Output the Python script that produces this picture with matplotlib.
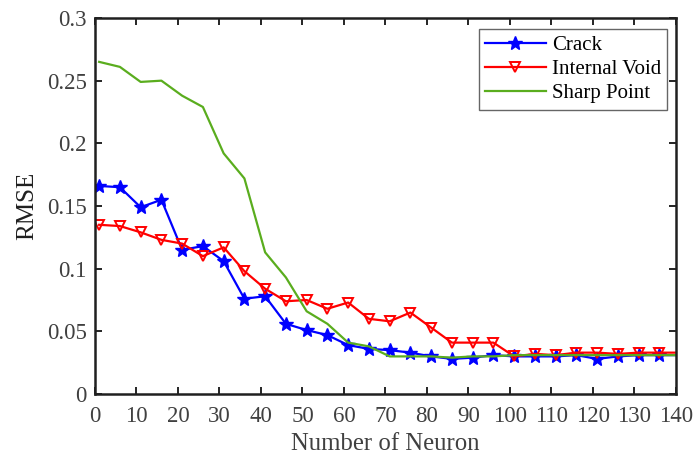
import matplotlib.pyplot as plt
import numpy as np

plt.rcParams['font.family'] = ['Liberation Serif', 'DejaVu Serif']

# neuron counts (1, 6, ..., 141)
neurons = list(range(1, 142, 5))

crack = [0.166, 0.165, 0.149, 0.155, 0.115, 0.118, 0.106, 0.076, 0.078, 0.056,
         0.051, 0.047, 0.039, 0.036, 0.035, 0.033, 0.030, 0.028, 0.029, 0.031,
         0.030, 0.030, 0.030, 0.031, 0.028, 0.030, 0.031, 0.031, 0.031]
void = [0.135, 0.134, 0.129, 0.123, 0.120, 0.110, 0.117, 0.098, 0.084, 0.074,
        0.075, 0.068, 0.073, 0.060, 0.058, 0.065, 0.053, 0.041, 0.041, 0.041,
        0.030, 0.032, 0.031, 0.033, 0.033, 0.032, 0.033, 0.033, 0.033]
sharp = [0.265, 0.261, 0.249, 0.250, 0.238, 0.229, 0.192, 0.172, 0.113, 0.093,
         0.066, 0.056, 0.041, 0.038, 0.030, 0.030, 0.030, 0.029, 0.030, 0.030,
         0.031, 0.031, 0.031, 0.031, 0.031, 0.031, 0.031, 0.031, 0.031]

fig = plt.figure(figsize=(6.94, 4.54), dpi=100)
ax = fig.add_axes([95/694, 60/454, 581/694, 376/454])

shown = slice(0, len(neurons) - 1)  # last point lies past the axis edge
ax.plot(neurons, crack, color='#0000ff', lw=1.6, marker='*', ms=10,
        markevery=shown, label='Crack')
ax.plot(neurons, void, color='#ff0000', lw=1.6, marker='v', ms=7,
        mfc='none', mew=1.4, markevery=shown, label='Internal Void')
ax.plot(neurons, sharp, color='#5aad1e', lw=1.6, label='Sharp Point')

ax.set_xlim(0, 140)
ax.set_ylim(0, 0.3)
ax.set_xticks(np.arange(0, 141, 10))
ax.set_yticks([0, 0.05, 0.1, 0.15, 0.2, 0.25, 0.3])
ax.set_yticklabels(['0', '0.05', '0.1', '0.15', '0.2', '0.25', '0.3'])
ax.tick_params(direction='in', top=True, right=True, length=5, width=1.2,
               labelsize=16.5, labelcolor='#404040', pad=6)
ax.tick_params(axis='x', pad=9)
for s in ax.spines.values():
    s.set_linewidth(1.8)
    s.set_color('#202020')

ax.set_xlabel('Number of Neuron', fontsize=17.8, color='#404040', labelpad=4)
ax.set_ylabel('RMSE', fontsize=18, color='#202020', labelpad=6)

leg = ax.legend(loc='upper right', fontsize=15, fancybox=False,
                edgecolor='#404040', borderpad=0.3, handlelength=2.9,
                labelspacing=0.22, handletextpad=0.3, borderaxespad=0,
                bbox_to_anchor=(0.985, 0.97))
leg.get_frame().set_linewidth(1.0)

fig.savefig('out.png', dpi=100)
